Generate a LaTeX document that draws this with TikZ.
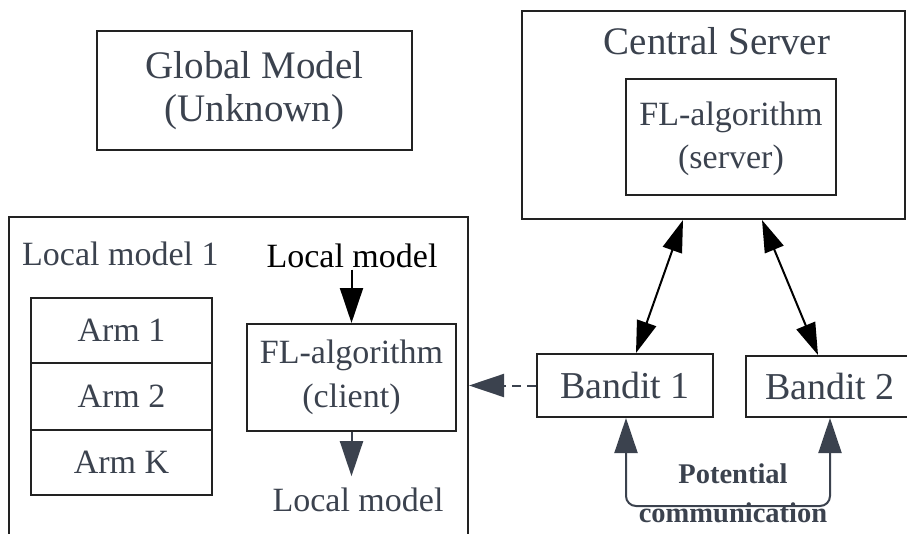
\documentclass[tikz,border=0pt]{standalone}
\usepackage{fontspec}
\setmainfont{Liberation Serif}
\usetikzlibrary{arrows.meta,calc}

\definecolor{ink}{HTML}{3B424E}
\definecolor{frame}{HTML}{222222}

\newcommand{\fsz}[2]{\fontsize{#1}{#2}\selectfont}

\tikzset{
  box/.style={draw=frame, line width=2pt, inner sep=0pt, align=center,
              text=ink},
  lbl/.style={inner sep=2pt, text=ink},
  bigtip/.style={-{Triangle[length=35pt,width=23pt]}},
  dbltip/.style={{Triangle[length=32pt,width=20pt]}-{Triangle[length=32pt,width=20pt]}},
  blackline/.style={draw=black, line width=2pt},
  grayline/.style={draw=ink, line width=2pt},
}

\begin{document}
\begin{tikzpicture}[x=1pt,y=-1pt]
  \useasboundingbox (0,0) rectangle (907,533);
  \clip (0,0) rectangle (907,533);

  % global model
  \node[box, minimum width=315pt, minimum height=119pt, font=\fsz{39}{43}]
    (global) at (254.5,90.5) {Global Model\\(Unknown)};

  % central server with its algorithm
  \node[box, minimum width=383pt, minimum height=208pt] (server) at (713.5,115) {};
  \node[lbl, anchor=base, font=\fsz{39}{46}] (servertitle) at (717,54) {Central Server};
  \node[box, minimum width=210pt, minimum height=116pt, font=\fsz{34}{43},
        text depth=4pt]
    (flserver) at (731,137) {FL-algorithm\\(server)};

  % local model frame (open at the bottom)
  \node[box, minimum width=459pt, minimum height=343pt] (local) at (238.5,388.5) {};
  \node[lbl, anchor=base west, font=\fsz{34}{40}] (localtitle) at (20,265) {Local model 1};

  % arms
  \node[box, minimum width=181pt, minimum height=65pt, font=\fsz{34}{40}]
    (arm1) at (121.5,330.5) {Arm 1};
  \node[box, minimum width=181pt, minimum height=67pt, font=\fsz{34}{40}]
    (arm2) at (121.5,396.5) {Arm 2};
  \node[box, minimum width=181pt, minimum height=65pt, font=\fsz{34}{40}]
    (armk) at (121.5,462.5) {Arm K};

  % client algorithm with its input and output
  \node[box, minimum width=209pt, minimum height=107pt, font=\fsz{34}{44}]
    (flclient) at (351.5,377.5) {FL-algorithm\\(client)};
  \node[inner sep=2pt, anchor=base, text=black, font=\fsz{34}{40}]
    (localin) at (352,267) {Local model};
  \node[lbl, anchor=base, font=\fsz{34}{40}]
    (localout) at (358,511) {Local model};

  % bandits
  \node[box, minimum width=176pt, minimum height=63pt, font=\fsz{38}{44}]
    (bandit1) at (625,385.5) {Bandit 1};
  \node[box, minimum width=162pt, minimum height=61pt, font=\fsz{38}{44}]
    (bandit2) at (827,386.5) {\hspace*{6pt}Bandit 2};

  % communication label
  \node[lbl, anchor=base, font=\bfseries\fsz{28.5}{34}] (pot) at (733,483) {Potential};
  \node[lbl, anchor=base, font=\bfseries\fsz{28.5}{34}] (comm) at (733,522) {communication};

  % connectors
  \draw[blackline, bigtip] (localin.south -| flclient.north) -- (flclient.north);
  \draw[grayline, bigtip] (flclient.south) -- ([yshift=9pt]localout.north -| flclient.south);
  \draw[grayline, dashed, dash pattern=on 9pt off 6pt, bigtip]
    (bandit1.west) -- (bandit1.west -| local.east);
  \draw[blackline, dbltip] ([xshift=-30.5pt]server.south) -- ([xshift=11pt]bandit1.north);
  \draw[blackline, dbltip] ([xshift=48.5pt]server.south) -- ([xshift=-9pt]bandit2.north);
  \draw[grayline, rounded corners=10pt,
        {Triangle[length=35pt,width=23pt]}-{Triangle[length=35pt,width=23pt]}]
    ([xshift=1pt]bandit1.south) -- ++(0,88) -| ([xshift=3pt]bandit2.south);
\end{tikzpicture}
\end{document}
